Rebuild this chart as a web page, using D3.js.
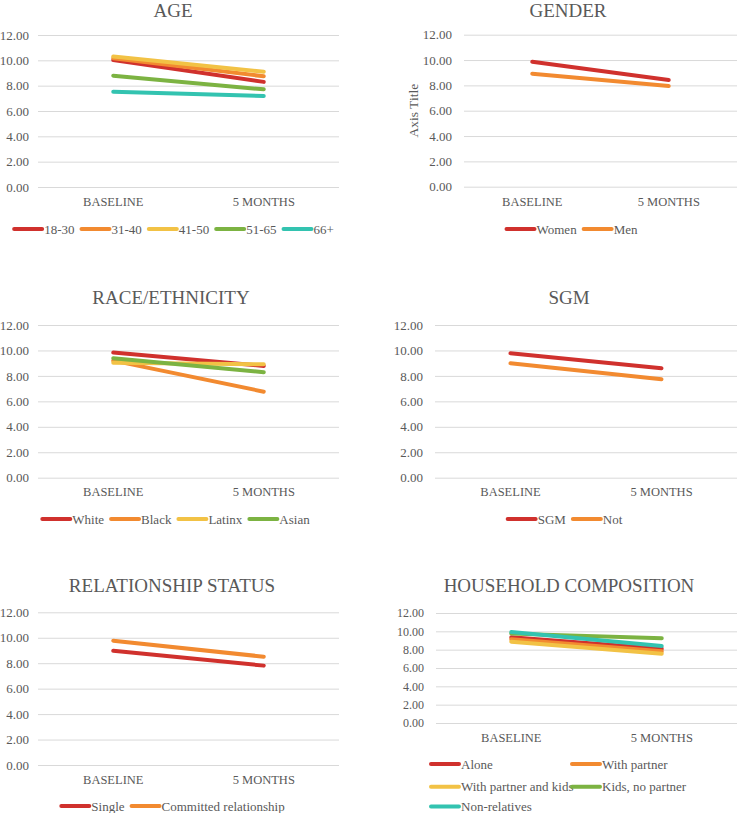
<!DOCTYPE html>
<html>
<head>
<meta charset="utf-8">
<script src="https://cdn.jsdelivr.net/npm/d3@7"></script>
<style>
  html, body { margin: 0; padding: 0; background: #fff; }
  svg { display: block; }
  text { font-family: "Liberation Serif", Tinos, "Times New Roman", Times, "DejaVu Serif", serif; fill: #595959; }
</style>
</head>
<body>
<svg id="chart" width="737" height="813"></svg>
<script>
// ---------- DATA ----------
const categories = ["BASELINE", "5 MONTHS"];
const yTicks = [0, 2, 4, 6, 8, 10, 12];

const ageSeries = ["18-30", "31-40", "41-50", "51-65", "66+"];
const ageValues = [[10.03, 8.30], [10.17, 8.74], [10.30, 9.10], [8.79, 7.71], [7.52, 7.18]];

const genderSeries = ["Women", "Men"];
const genderValues = [[9.87, 8.42], [8.92, 7.95]];

const raceSeries = ["White", "Black", "Latinx", "Asian"];
const raceValues = [[9.83, 8.78], [9.20, 6.76], [9.04, 8.91], [9.39, 8.29]];

const sgmSeries = ["SGM", "Not"];
const sgmValues = [[9.78, 8.60], [8.99, 7.73]];

const relSeries = ["Single", "Committed relationship"];
const relValues = [[8.98, 7.81], [9.77, 8.51]];

const houseSeries = ["Alone", "With partner", "With partner and kids", "Kids, no partner", "Non-relatives"];
const houseValues = [[9.35, 8.10], [9.13, 7.82], [8.87, 7.56], [9.75, 9.24], [9.92, 8.40]];

const palette = ["#D0312D", "#F28A30", "#F2C245", "#7CB342", "#33C3B0"];

// ---------- DRAW ----------
const svg = d3.select("#chart");
const FONT = '"Liberation Serif", Tinos, "Times New Roman", Times, "DejaVu Serif", serif';

function panel(cfg) {
  const g = svg.append("g");
  const x = d3.scaleBand().domain(categories).range([cfg.x0, cfg.x1]);
  const y = d3.scaleLinear().domain([0, 12]).range([cfg.yb, cfg.yt]);

  g.append("text").attr("x", cfg.titleX).attr("y", cfg.titleY)
    .attr("text-anchor", "middle").style("font-size", "19px").style("font-family", FONT).text(cfg.title);

  const yAxis = d3.axisLeft(y).tickValues(yTicks).tickFormat(d3.format(".2f"))
    .tickSize(-(cfg.x1 - cfg.x0)).tickPadding(cfg.x0 - cfg.tickRight);
  const ya = g.append("g").attr("transform", `translate(${cfg.x0},0)`).call(yAxis)
    .attr("font-family", null).attr("font-size", null);
  ya.select(".domain").remove();
  ya.selectAll(".tick line").attr("stroke", "#d9d9d9").attr("stroke-width", 1);
  ya.selectAll(".tick text").style("font-size", cfg.tickFont + "px").attr("fill", "#595959")
    .style("font-family", FONT);

  const xAxis = d3.axisBottom(x).tickSize(0).tickPadding(0);
  const xa = g.append("g").attr("transform", `translate(0,${cfg.catY})`).call(xAxis)
    .attr("font-family", null).attr("font-size", null);
  xa.select(".domain").remove();
  xa.selectAll(".tick text").attr("dy", "0.35em").attr("y", 0).style("font-size", "12.5px")
    .attr("fill", "#595959").style("font-family", FONT);

  if (cfg.axisTitle) {
    g.append("text").attr("transform", `translate(${cfg.axisTitleX},${(cfg.yb + cfg.yt) / 2}) rotate(-90)`)
      .attr("text-anchor", "middle").attr("dy", "0.35em").style("font-size", "13.5px").style("font-family", FONT)
      .text(cfg.axisTitle);
  }

  const line = d3.line().x((d, i) => x(categories[i]) + x.bandwidth() / 2).y(d => y(d));
  cfg.values.forEach((vals, i) => {
    g.append("path").datum(vals).attr("d", line).attr("fill", "none")
      .attr("stroke", palette[i]).attr("stroke-width", 4).attr("stroke-linecap", "round");
  });

  const lg = g.append("g");
  const items = [];
  cfg.series.forEach((name, i) => {
    const it = lg.append("g");
    it.append("line").attr("x1", 0).attr("x2", 28).attr("y1", 0).attr("y2", 0)
      .attr("stroke", palette[i]).attr("stroke-width", 4).attr("stroke-linecap", "round");
    const t = it.append("text").attr("x", 30).attr("dy", "0.35em").style("font-size", "13px")
      .style("font-family", FONT).text(name);
    items.push({ it, w: 30 + t.node().getComputedTextLength() });
  });
  if (cfg.legendGrid) {
    items.forEach((o, i) => {
      const c = i % 2, r = Math.floor(i / 2);
      o.it.attr("transform", `translate(${cfg.legendGrid.cols[c]},${cfg.legendGrid.rows[r]})`);
    });
  } else {
    const gap = 7;
    const total = d3.sum(items, o => o.w) + gap * (items.length - 1);
    let cx = cfg.legendCX - total / 2;
    items.forEach(o => { o.it.attr("transform", `translate(${cx},${cfg.legendY})`); cx += o.w + gap; });
  }
}

panel({ title: "AGE", titleX: 173, titleY: 17, x0: 38, x1: 339, yb: 187, yt: 35, tickRight: 29, tickFont: 13,
  catY: 202, legendY: 229, legendCX: 174, series: ageSeries, values: ageValues });
panel({ title: "GENDER", titleX: 568, titleY: 17, x0: 464, x1: 737, yb: 186.7, yt: 34.7, tickRight: 452, tickFont: 13,
  catY: 202, legendY: 229, legendCX: 572, axisTitle: "Axis Title", axisTitleX: 413,
  series: genderSeries, values: genderValues });
panel({ title: "RACE/ETHNICITY", titleX: 171, titleY: 304, x0: 38, x1: 339, yb: 477.7, yt: 325, tickRight: 29, tickFont: 13,
  catY: 492, legendY: 519, legendCX: 176, series: raceSeries, values: raceValues });
panel({ title: "SGM", titleX: 569, titleY: 304, x0: 435, x1: 737, yb: 477.7, yt: 325, tickRight: 423, tickFont: 13,
  catY: 492, legendY: 519, legendCX: 565, series: sgmSeries, values: sgmValues });
panel({ title: "RELATIONSHIP STATUS", titleX: 172, titleY: 592, x0: 38, x1: 339, yb: 765, yt: 612.3, tickRight: 29, tickFont: 13,
  catY: 780, legendY: 806, legendCX: 173, series: relSeries, values: relValues });
panel({ title: "HOUSEHOLD COMPOSITION", titleX: 569, titleY: 592, x0: 436, x1: 737, yb: 723, yt: 613, tickRight: 424, tickFont: 12,
  catY: 738, legendGrid: { cols: [431, 572], rows: [764, 786.7, 806.5] }, series: houseSeries, values: houseValues });
</script>
</body>
</html>
